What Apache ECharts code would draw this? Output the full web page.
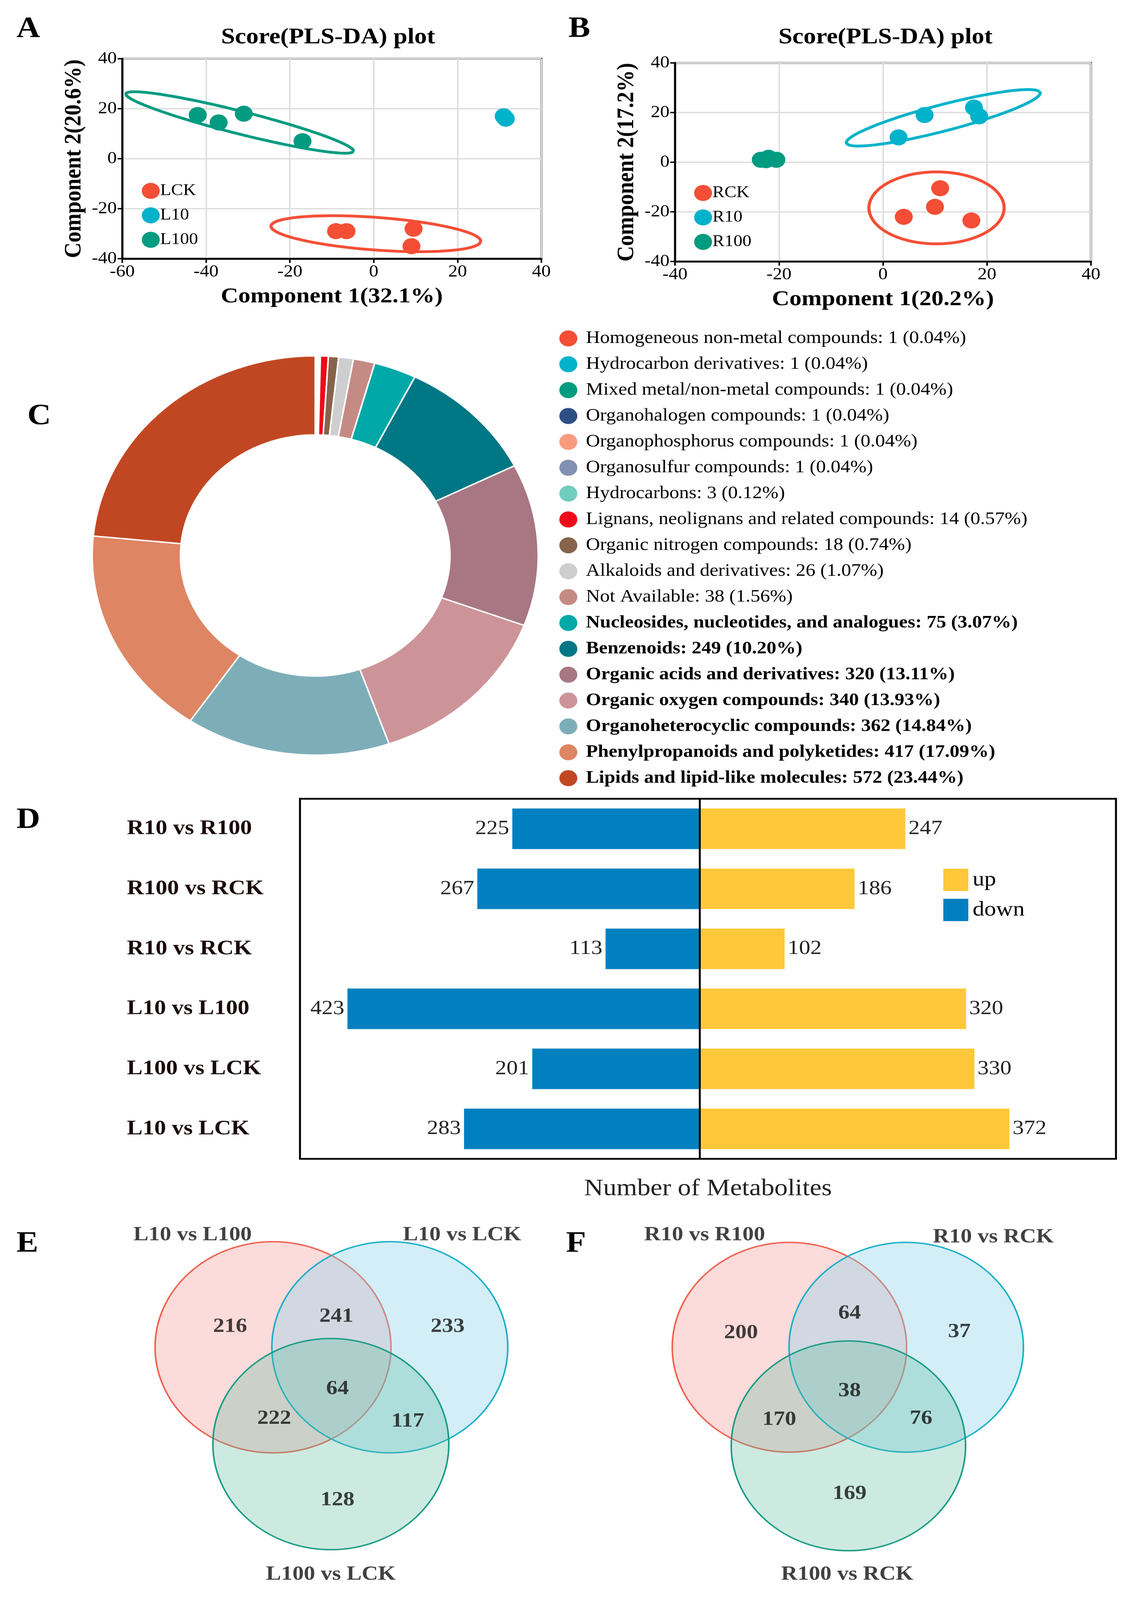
<!DOCTYPE html>
<html lang="en">
<head>
    <meta charset="UTF-8">
    <title>Metabolite overview</title>
    <script src="https://cdn.jsdelivr.net/npm/echarts@6/dist/echarts.min.js"></script>
    <style>
        html, body { margin: 0; padding: 0; background: #fff; overflow: hidden; }
        #main { width: 2875px; height: 4577px; transform-origin: 0 0; }
    </style>
</head>
<body>
<div id="main"></div>
<script>
    // ---- A: PLS-DA scores (leaf) ----
    var aLCK = [[-9, -29], [-6.5, -29], [9.5, -28], [9, -35]];
    var aL10 = [[31, 17], [31.5, 16]];
    var aL100 = [[-42, 17.5], [-37, 14.5], [-31, 18], [-17, 7]];
    // ellipse: [cx, cy, dirX, dirY, semiMajor, semiMinor]
    var aEllLCK = [0.5, -30, 50, -6.4, 25.2, 6.5];
    var aEllL100 = [-32, 14.5, 27, -11.6, 29.5, 4.3];

    // ---- B: PLS-DA scores (root) ----
    var bRCK = [[4, -22], [10, -18], [11, -10.5], [17, -23.5]];
    var bR10 = [[3, 10], [8, 19], [17.5, 22], [18.5, 18.5]];
    var bR100 = [[-23.5, 1], [-22, 1.8], [-20.5, 1], [-22.5, 0.8]];
    var bEllRCK = [10.3, -18.4, 1, 0, 13, 14.5];
    var bEllR10 = [11.6, 17.9, 37, 21.2, 21.3, 4.8];

    // ---- C: superclass donut ----
    var superNames = ['Homogeneous non-metal compounds', 'Hydrocarbon derivatives', 'Mixed metal/non-metal compounds',
        'Organohalogen compounds', 'Organophosphorus compounds', 'Organosulfur compounds', 'Hydrocarbons',
        'Lignans, neolignans and related compounds', 'Organic nitrogen compounds', 'Alkaloids and derivatives',
        'Not Available', 'Nucleosides, nucleotides, and analogues', 'Benzenoids', 'Organic acids and derivatives',
        'Organic oxygen compounds', 'Organoheterocyclic compounds', 'Phenylpropanoids and polyketides',
        'Lipids and lipid-like molecules'];
    var superCounts = [1, 1, 1, 1, 1, 1, 3, 14, 18, 26, 38, 75, 249, 320, 340, 362, 417, 572];
    var superColors = ['#F44E36', '#00B2CA', '#009B80', '#2C4F86', '#F99B7E', '#8290B1', '#70CDBF', '#EE0A19',
        '#86634A', '#CECECE', '#C48B84', '#00A8A8', '#007785', '#A87783', '#CC9499', '#7DAEB8', '#DE8563', '#C14722'];

    // ---- D: differential metabolites ----
    var compares = ['R10 vs R100', 'R100 vs RCK', 'R10 vs RCK', 'L10 vs L100', 'L100 vs LCK', 'L10 vs LCK'];
    var upCounts = [247, 186, 102, 320, 330, 372];
    var downCounts = [225, 267, 113, 423, 201, 283];

    // ---- E/F: Venn (circle centre x, y, radius on page) ----
    var vennCircles = [
        [699, 3854, 302, 'red'], [998, 3854, 302, 'blue'], [847, 4131, 302, 'green'],
        [2021, 3854, 300, 'red'], [2320, 3854, 300, 'blue'], [2172, 4136, 300, 'green']
    ];
    var vennCounts = [
        [589, 3795, '216'], [861, 3766, '241'], [1146, 3795, '233'], [864, 3973, '64'],
        [702, 4058, '222'], [1044, 4066, '117'], [864, 4291, '128'],
        [1897, 3813, '200'], [2175, 3757, '64'], [2456, 3810, '37'], [2175, 3979, '38'],
        [1995, 4061, '170'], [2358, 4058, '76'], [2175, 4273, '169']
    ];
    var vennSetLabels = [
        [493, 3533, 'L10 vs L100'], [1183, 3533, 'L10 vs LCK'], [847, 4504, 'L100 vs LCK'],
        [1804, 3533, 'R10 vs R100'], [2543, 3539, 'R10 vs RCK'], [2169, 4504, 'R100 vs RCK']
    ];

    var FONT = '"Liberation Serif", "Times New Roman", serif';
    var RED = '#F44E36', BLUE = '#00B2CA', GREEN = '#009B80';
    var vennStyle = {
        red: {fill: 'rgba(248,160,160,0.38)', stroke: '#F0604D'},
        blue: {fill: 'rgba(140,210,235,0.38)', stroke: '#1AAFC9'},
        green: {fill: 'rgba(90,185,155,0.30)', stroke: '#1A9C85'}
    };

    // fit the 2875x4577 layout into whatever viewport we get
    var box = document.getElementById('main');
    var sx = window.innerWidth / 2875, sy = window.innerHeight / 4577;
    box.style.transform = 'scale(' + sx + ',' + sy + ')';

    function ellipse(p) {
        var len = Math.sqrt(p[2] * p[2] + p[3] * p[3]);
        var ux = p[2] / len, uy = p[3] / len;
        var pts = [];
        for (var i = 0; i <= 120; i++) {
            var t = i / 120 * 2 * Math.PI;
            var a = p[4] * Math.cos(t), b = p[5] * Math.sin(t);
            pts.push([p[0] + a * ux - b * uy, p[1] + a * uy + b * ux]);
        }
        return pts;
    }

    function scoreAxes(idx, xMin, xMax, xName, yName) {
        var common = {
            gridIndex: idx,
            type: 'value',
            interval: 20,
            axisLine: {show: true, onZero: false, lineStyle: {color: '#000', width: 5}},
            axisTick: {show: true, length: 12, lineStyle: {color: '#000', width: 4}},
            axisLabel: {color: '#000', fontSize: 48, fontFamily: FONT, margin: 14},
            splitLine: {show: true, lineStyle: {color: '#dedede', width: 4}},
            nameLocation: 'middle',
            nameTextStyle: {color: '#000', fontSize: 62, fontWeight: 'bold', fontFamily: FONT}
        };
        return {
            x: Object.assign({}, common, {min: xMin, max: xMax, name: xName, nameGap: 78}),
            y: Object.assign({}, common, {min: -40, max: 40, name: yName, nameGap: 92})
        };
    }

    var axA = scoreAxes(0, -60, 40, 'Component 1(32.1%)', 'Component 2(20.6%)');
    var axB = scoreAxes(1, -40, 40, 'Component 1(20.2%)', 'Component 2(17.2%)');

    function dots(name, data, color, xi) {
        return {
            name: name, type: 'scatter', xAxisIndex: xi, yAxisIndex: xi, data: data,
            symbolSize: 46, itemStyle: {color: color, opacity: 1}, z: 3
        };
    }
    function ring(p, color, xi) {
        return {
            type: 'line', xAxisIndex: xi, yAxisIndex: xi, data: ellipse(p), showSymbol: false,
            lineStyle: {color: color, width: 8}, silent: true, z: 2
        };
    }

    var total = superCounts.reduce(function (s, v) { return s + v; }, 0);
    var pieData = superNames.map(function (n, i) {
        return {name: n, value: superCounts[i], itemStyle: {color: superColors[i]}};
    });

    var vennPoints = vennCircles.map(function (c) { return [c[0], c[1], c[2], c[3]]; });

    var option = {
        backgroundColor: '#fff',
        animation: false,
        textStyle: {fontFamily: FONT},
        title: [
            {text: 'Score(PLS-DA) plot', left: 835, top: 70, textAlign: 'center',
                textStyle: {fontSize: 64, fontWeight: 'bold', fontFamily: FONT, color: '#000'}},
            {text: 'Score(PLS-DA) plot', left: 2262, top: 70, textAlign: 'center',
                textStyle: {fontSize: 64, fontWeight: 'bold', fontFamily: FONT, color: '#000'}}
        ],
        graphic: [
            ['A', 72, 87], ['B', 1485, 87], ['C', 100, 1195], ['D', 72, 2350], ['E', 72, 3562], ['F', 1479, 3562]
        ].map(function (l) {
            return {type: 'text', left: l[1] - 30, top: l[2] - 45,
                style: {text: l[0], font: 'bold 84px ' + FONT, fill: '#000'}};
        }),
        legend: [
            {data: ['LCK', 'L10', 'L100'], orient: 'vertical', left: 358, top: 518, icon: 'circle',
                itemWidth: 46, itemHeight: 46, itemGap: 24,
                textStyle: {fontSize: 46, fontFamily: FONT, color: '#000', padding: [0, 0, 0, -4]}},
            {data: ['RCK', 'R10', 'R100'], orient: 'vertical', left: 1772, top: 524, icon: 'circle',
                itemWidth: 46, itemHeight: 46, itemGap: 24,
                textStyle: {fontSize: 46, fontFamily: FONT, color: '#000', padding: [0, 0, 0, -4]}},
            {data: superNames, orient: 'vertical', left: 1425, top: 938, icon: 'circle',
                itemWidth: 48, itemHeight: 48, itemGap: 24,
                formatter: function (name) {
                    var i = superNames.indexOf(name);
                    var v = superCounts[i];
                    var txt = name + ': ' + v + ' (' + (v / total * 100).toFixed(2) + '%)';
                    return v >= 75 ? '{b|' + txt + '}' : '{n|' + txt + '}';
                },
                textStyle: {padding: [0, 0, 0, 16], rich: {
                    n: {fontSize: 50, fontFamily: FONT, color: '#000'},
                    b: {fontSize: 50, fontFamily: FONT, color: '#000', fontWeight: 'bold'}
                }}},
            {data: ['up', 'down'], orient: 'vertical', left: 2410, top: 2480, icon: 'rect',
                itemWidth: 64, itemHeight: 64, itemGap: 22,
                textStyle: {fontSize: 60, fontFamily: FONT, color: '#000', padding: [0, 0, 0, 6]}}
        ],
        grid: [
            {left: 313, top: 168, width: 1073, height: 572, show: true, borderColor: '#000', borderWidth: 5},
            {left: 1728, top: 180, width: 1065, height: 568, show: true, borderColor: '#000', borderWidth: 5},
            {left: 768, top: 2285, width: 2089, height: 1030, show: true, borderColor: '#000', borderWidth: 5},
            {left: 0, top: 3400, width: 2875, height: 1177}
        ],
        xAxis: [
            axA.x, axB.x,
            {gridIndex: 2, type: 'value', min: -480, max: 500, name: 'Number of Metabolites',
                nameLocation: 'middle', nameGap: 52,
                nameTextStyle: {fontSize: 68, fontFamily: FONT, color: '#222'},
                axisLine: {show: false}, axisTick: {show: false}, axisLabel: {show: false}, splitLine: {show: false}},
            {gridIndex: 3, type: 'value', min: 0, max: 2875, show: false}
        ],
        yAxis: [
            axA.y, axB.y,
            {gridIndex: 2, type: 'category', data: compares, inverse: true,
                axisLine: {show: false}, axisTick: {show: false},
                axisLabel: {align: 'left', margin: 443, fontSize: 60, fontWeight: 'bold', fontFamily: FONT, color: '#1a0a0a'}},
            {gridIndex: 3, type: 'value', min: 3400, max: 4577, inverse: true, show: false}
        ],
        series: [
            ring(aEllLCK, RED, 0), ring(aEllL100, GREEN, 0),
            dots('LCK', aLCK, RED, 0), dots('L10', aL10, BLUE, 0), dots('L100', aL100, GREEN, 0),
            ring(bEllRCK, RED, 1), ring(bEllR10, BLUE, 1),
            dots('RCK', bRCK, RED, 1), dots('R10', bR10, BLUE, 1), dots('R100', bR100, GREEN, 1),
            {
                type: 'pie', center: [807, 1589], radius: [345, 571], startAngle: 90, clockwise: true,
                data: pieData, label: {show: false}, labelLine: {show: false},
                itemStyle: {borderColor: '#fff', borderWidth: 4}
            },
            {
                type: 'pie', center: [807, 1589], radius: [0, 0], silent: true, data: [{value: 1, name: ''}],
                label: {show: true, position: 'center', formatter: 'superclass',
                    fontSize: 82, fontWeight: 'bold', fontFamily: FONT, color: '#000'},
                labelLine: {show: false}, itemStyle: {opacity: 0}, legendHoverLink: false
            },
            {
                name: 'up', type: 'bar', xAxisIndex: 2, yAxisIndex: 2, stack: 'n', barWidth: 116,
                data: upCounts, itemStyle: {color: '#FFC83A'},
                label: {show: true, position: 'right', distance: 8, fontSize: 58, fontFamily: FONT, color: '#222'}
            },
            {
                name: 'down', type: 'bar', xAxisIndex: 2, yAxisIndex: 2, stack: 'n', barWidth: 116,
                data: downCounts.map(function (v) { return -v; }), itemStyle: {color: '#0080C0'},
                label: {show: true, position: 'left', distance: 8, fontSize: 58, fontFamily: FONT, color: '#222',
                    formatter: function (p) { return Math.abs(p.value); }},
                markLine: {silent: true, symbol: 'none', label: {show: false},
                    lineStyle: {color: '#000', width: 5, type: 'solid'}, data: [{xAxis: 0}]}
            },
            {
                type: 'custom', xAxisIndex: 3, yAxisIndex: 3, data: vennPoints, silent: true,
                renderItem: function (params, api) {
                    var c = api.coord([api.value(0), api.value(1)]);
                    var r = api.size([api.value(2), 0])[0];
                    var st = vennStyle[vennPoints[params.dataIndex][3]];
                    return {type: 'circle', shape: {cx: c[0], cy: c[1], r: r},
                        style: {fill: st.fill, stroke: st.stroke, lineWidth: 4}};
                }
            },
            {
                type: 'scatter', xAxisIndex: 3, yAxisIndex: 3, symbolSize: 0, silent: true,
                data: vennCounts.concat(vennSetLabels),
                label: {show: true, position: 'inside', formatter: function (p) { return p.value[2]; },
                    fontSize: 58, fontWeight: 'bold', fontFamily: FONT, color: '#111'}
            }
        ]
    };

    echarts.init(box).setOption(option);
</script>
</body>
</html>
